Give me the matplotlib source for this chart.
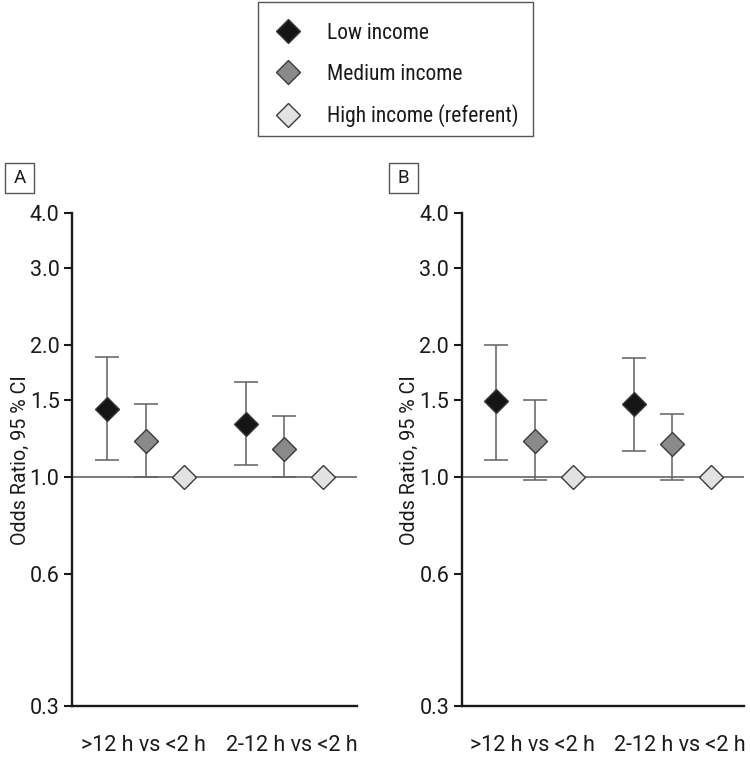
import numpy as np
import matplotlib.pyplot as plt
from matplotlib.lines import Line2D
from matplotlib.patches import Rectangle
from matplotlib import font_manager

# narrow font for the legend if we have one
installed = {f.name for f in font_manager.fontManager.ttflist}
narrow = 'Roboto'
for cand in ['Roboto Condensed', 'Liberation Sans Narrow', 'Arial Narrow']:
    if cand in installed:
        narrow = cand
        break
plt.rcParams['font.family'] = ['Roboto', 'DejaVu Sans']

# data
groups = ['>12 h vs <2 h', '2-12 h vs <2 h']
series = ['Low income', 'Medium income', 'High income (referent)']
colors = ['#151515', '#8a8a8a', '#e2e2e2']

# panel A
a_or = [[1.43, 1.21, 1.0], [1.32, 1.16, 1.0]]
a_lo = [[1.095, 1.0, 1.0], [1.063, 1.0, 1.0]]
a_hi = [[1.88, 1.47, 1.0], [1.65, 1.38, 1.0]]

# panel B
b_or = [[1.49, 1.21, 1.0], [1.47, 1.19, 1.0]]
b_lo = [[1.095, 0.986, 1.0], [1.148, 0.985, 1.0]]
b_hi = [[2.0, 1.50, 1.0], [1.87, 1.395, 1.0]]

yticks = [0.3, 0.6, 1.0, 1.5, 2.0, 3.0, 4.0]
group_x = [1.0, 4.58]
label_off = [0.95, 1.19]


def draw_panel(ax, ors, los, his):
    for g, gx in enumerate(group_x):
        for s in range(3):
            x = gx + s
            o, lo, hi = ors[g][s], los[g][s], his[g][s]
            if s < 2:
                ax.errorbar([x], [o], yerr=[[o - lo], [hi - o]], fmt='none',
                            ecolor='#606060', elinewidth=1.1, capsize=8.3,
                            capthick=1.1, zorder=2)
            ax.plot([x], [o], marker='D', markersize=12.5, color=colors[s],
                    markeredgecolor='#3a3a3a', markeredgewidth=1.0,
                    linestyle='none', zorder=3)
    ax.axhline(1.0, color='#707070', lw=1.3, zorder=1)
    ax.set_yscale('log')
    ax.set_ylim(0.3, 4.0)
    ax.set_xlim(0.1, 7.45)
    ax.set_yticks(yticks)
    ax.set_yticklabels([f'{t:.1f}' for t in yticks])
    ax.yaxis.set_minor_locator(plt.NullLocator())
    ax.set_xticks([gx + off for gx, off in zip(group_x, label_off)])
    ax.set_xticklabels(groups)
    ax.tick_params(axis='x', length=0, pad=21, labelsize=15.5, colors='#1a1a1a')
    ax.tick_params(axis='y', length=6, width=1.5, pad=3, labelsize=15.5,
                   colors='#1a1a1a')
    for sp in ['top', 'right']:
        ax.spines[sp].set_visible(False)
    for sp in ['left', 'bottom']:
        ax.spines[sp].set_linewidth(1.7)
        ax.spines[sp].set_color('#1a1a1a')
    ax.set_ylabel('Odds Ratio, 95 % CI', fontsize=14.2, color='#1a1a1a',
                  labelpad=0)


fig = plt.figure(figsize=(7.5, 7.58), dpi=100)
ax1 = fig.add_axes([0.096, 0.0686, 0.38, 0.65])
ax2 = fig.add_axes([0.6156, 0.0686, 0.3764, 0.65])
draw_panel(ax1, a_or, a_lo, a_hi)
draw_panel(ax2, b_or, b_lo, b_hi)

# boxed panel letters
for letter, x0 in [('A', 5), ('B', 389)]:
    fig.patches.append(Rectangle((x0 / 750, 1 - 193 / 758), 29 / 750, 30 / 758,
                                 transform=fig.transFigure, fc='white',
                                 ec='#555555', lw=1.0))
    fig.text((x0 + 14.5) / 750, 1 - 178 / 758, letter, fontsize=13.5,
             ha='center', va='center', color='#1a1a1a')

# legend: frame drawn by hand so the rows can sit a bit low in it
fig.patches.append(Rectangle((258 / 750, 1 - 136 / 758), 275 / 750, 134 / 758,
                             transform=fig.transFigure, fc='white',
                             ec='#555555', lw=1.0))
handles = [Line2D([], [], marker='D', markersize=12.5, color=c,
                  markeredgecolor='#3a3a3a', markeredgewidth=1.0,
                  linestyle='none') for c in colors]
leg = fig.legend(handles, series, loc='upper left',
                 bbox_to_anchor=(275 / 750, 1 - 23 / 758),
                 prop={'family': [narrow, 'DejaVu Sans'], 'size': 15.5},
                 frameon=False, handlelength=1.19, handletextpad=1.22,
                 labelspacing=0.91, borderpad=0, borderaxespad=0)
for t in leg.get_texts():
    t.set_color('#1a1a1a')

fig.savefig('out.png', dpi=100)
